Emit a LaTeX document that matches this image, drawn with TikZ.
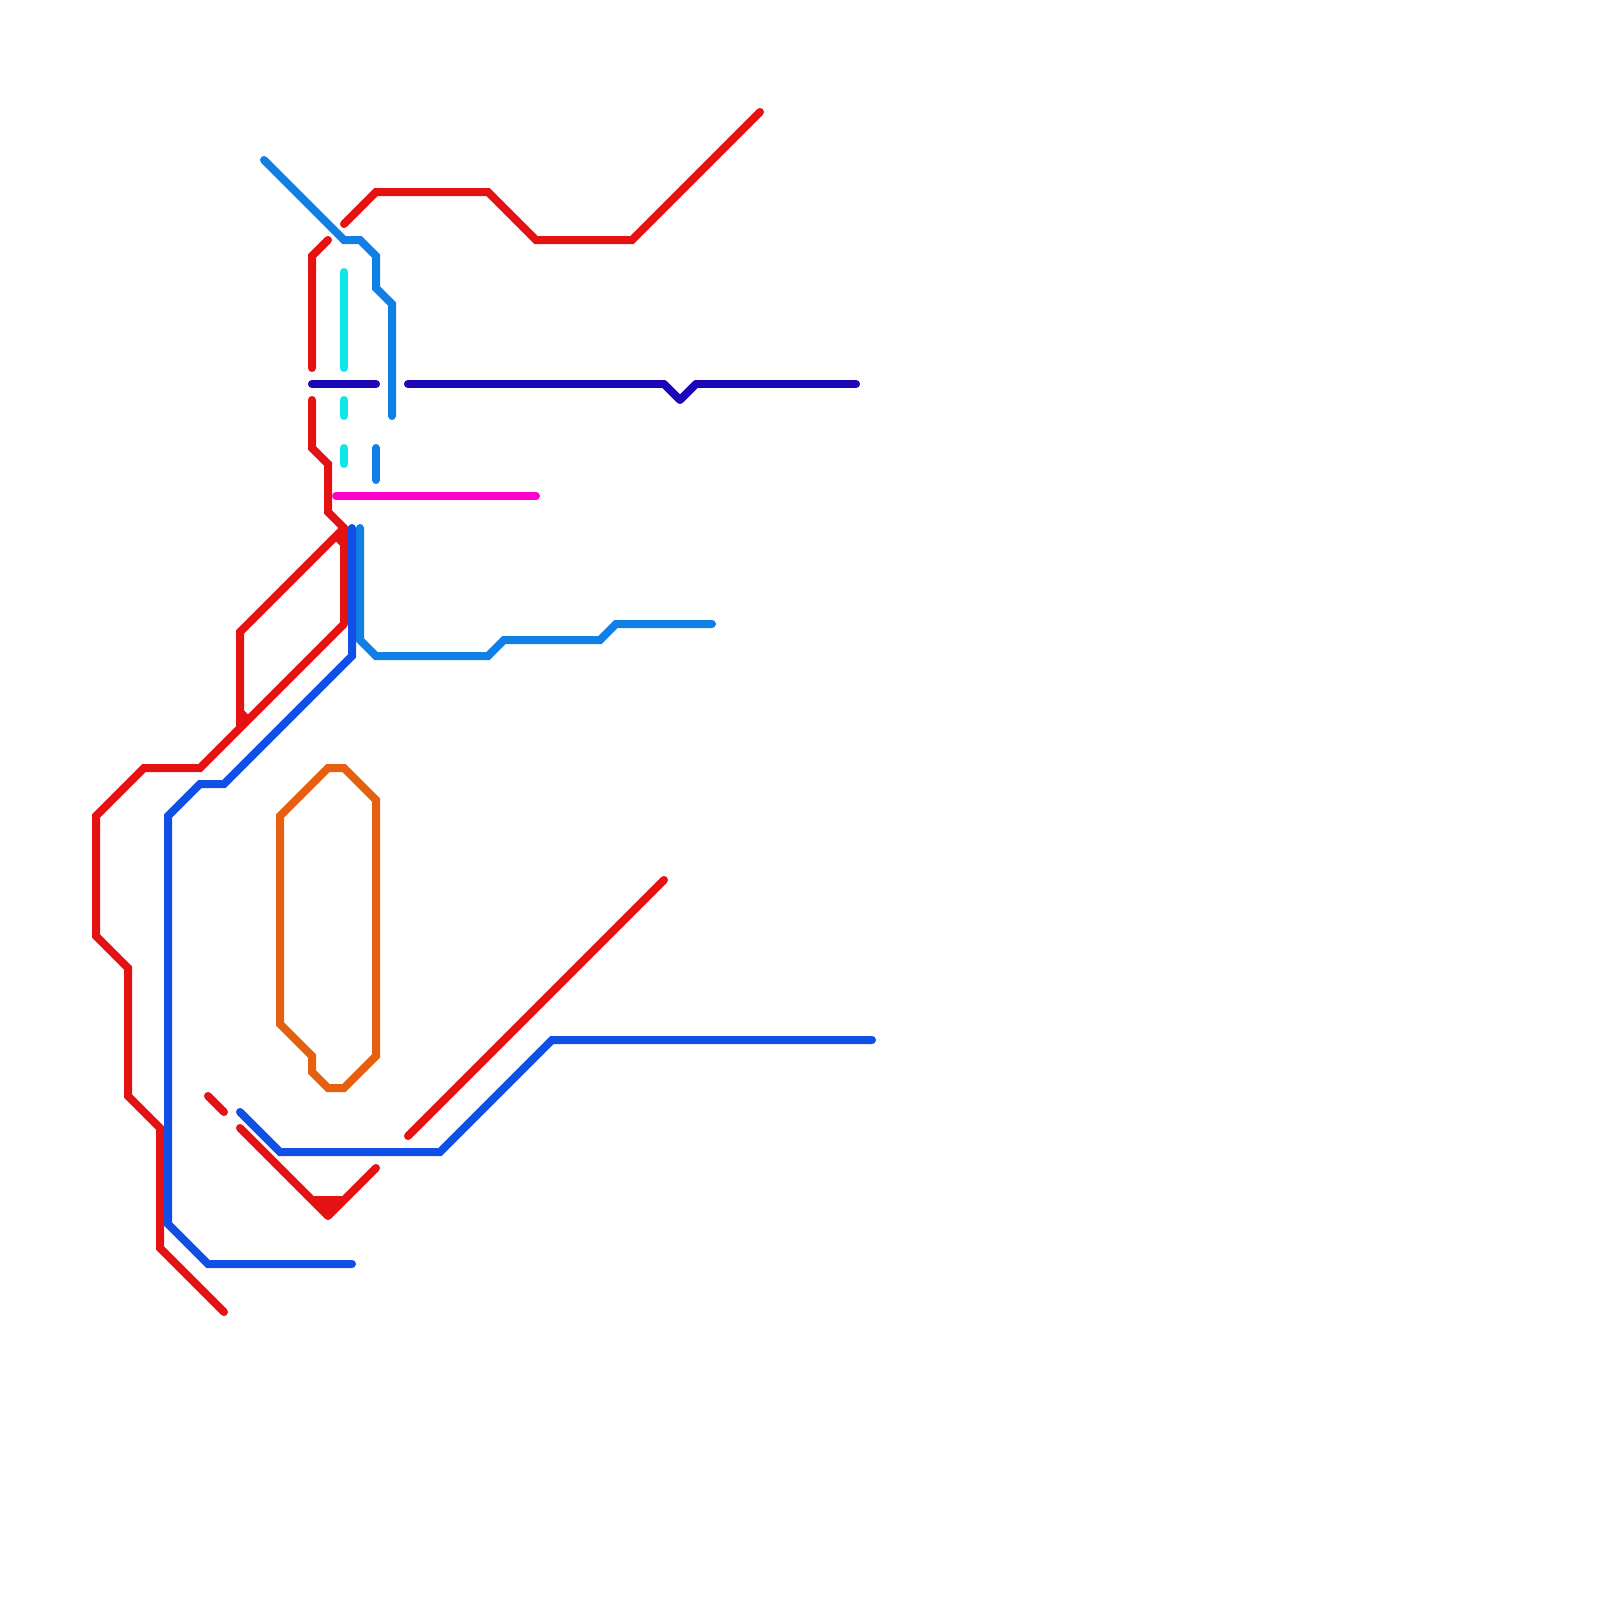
\documentclass[tikz,border=0pt]{standalone}
\definecolor{cred}{HTML}{E41212}
\definecolor{cblue}{HTML}{1050E6}
\definecolor{clight}{HTML}{1080E6}
\definecolor{ccyan}{HTML}{10E6E6}
\definecolor{cindigo}{HTML}{1A05B8}
\definecolor{cmag}{HTML}{FF00CC}
\definecolor{corange}{HTML}{E66010}
\tikzset{route/.style={line width=8pt,line cap=round,line join=miter,miter limit=10}}
\begin{document}
\begin{tikzpicture}[x=1pt,y=-1pt]
\useasboundingbox[fill=white] (0,0) rectangle (1600,1600);
% red
\draw[route,cred] (760,112) -- (632,240) -- (536,240) -- (488,192) -- (376,192) -- (344,224);
\draw[route,cred] (328,240) -- (312,256) -- (312,368);
\draw[route,cred] (312,400) -- (312,448) -- (328,464) -- (328,512) -- (344,528) -- (336,536) -- (240,632) -- (240,728);
\draw[route,cred,line cap=butt] (336,536) -- (344,544);
\draw[route,cred,line cap=butt] (240,712) -- (248,720);
\draw[route,cred,line cap=butt] (344,526) -- (344,624);
\draw[route,cred] (344,624) -- (200,768) -- (144,768) -- (96,816) -- (96,936) -- (128,968) -- (128,1096) -- (160,1128) -- (160,1248) -- (224,1312);
\draw[route,cred] (208,1096) -- (224,1112);
\draw[route,cred,line join=round] (240,1128) -- (328,1216) -- (376,1168);
\fill[cred] (312,1196) -- (344,1196) -- (344,1200) -- (328,1216) -- (312,1200) -- cycle;
\draw[route,cred] (664,880) -- (408,1136);
% orange
\draw[route,corange] (280,816) -- (328,768) -- (344,768) -- (376,800) -- (376,1056) -- (344,1088) -- (328,1088) -- (312,1072) -- (312,1056) -- (280,1024) -- cycle;
% light blue
\draw[route,clight] (264,160) -- (344,240) -- (360,240) -- (376,256) -- (376,288) -- (392,304) -- (392,416);
\draw[route,clight] (376,448) -- (376,480);
\draw[route,clight] (360,528) -- (360,640) -- (376,656) -- (488,656) -- (504,640) -- (600,640) -- (616,624) -- (712,624);
% blue
\draw[route,cblue] (352,528) -- (352,656) -- (224,784) -- (200,784) -- (168,816) -- (168,1224) -- (208,1264) -- (352,1264);
\draw[route,cblue] (240,1112) -- (280,1152) -- (440,1152) -- (552,1040) -- (872,1040);
% cyan
\draw[route,ccyan] (344,272) -- (344,368);
\draw[route,ccyan] (344,400) -- (344,416);
\draw[route,ccyan] (344,448) -- (344,464);
% indigo
\draw[route,cindigo] (312,384) -- (376,384);
\draw[route,cindigo] (408,384) -- (664,384);
\draw[route,cindigo,line join=round] (664,384) -- (680,400) -- (696,384);
\draw[route,cindigo] (696,384) -- (856,384);
% magenta
\draw[route,cmag] (336,496) -- (536,496);
\end{tikzpicture}
\end{document}
